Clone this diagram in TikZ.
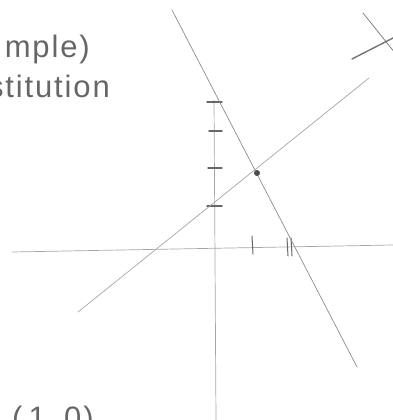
\documentclass[tikz,border=0pt]{standalone}
\usepackage{fontspec}
\newfontfamily\handfont[LetterSpace=6]{Liberation Sans}
\usetikzlibrary{positioning, calc}
\tikzset{
  pencil/.style={draw=black!45, line width=0.7pt, line cap=round},
  tickmark/.style={draw=black!60, line width=1.4pt, line cap=round},
  scrawl/.style={font=\handfont\fontsize{31}{31}\selectfont, text=black!60, inner sep=0pt},
}
\begin{document}
\begin{tikzpicture}[x=1pt, y=-1pt]
\useasboundingbox (0,0) rectangle (393,420);
\clip (0,0) rectangle (393,420);
% notes cut off at the left and bottom edges of the page
\node[scrawl, anchor=base east] (title) at (90,57) {mple)};
\node[scrawl, anchor=base east] (method) at (110,97) {stitution};
\node[scrawl, anchor=base west] (point) at (12,428) {(\hspace{6pt}1,\hspace{8pt}0\hspace{2pt})};
% axes, drawn freehand so a little off level
\coordinate (xl) at (12,252);
\coordinate (xr) at (393,245);
\coordinate (yt) at (214,100);
\coordinate (yb) at (216,420);
\draw[pencil, black!35] (xl) -- (xr);
\draw[pencil, black!35] (yt) -- (yb);
% unit marks on the y axis
\foreach \yy/\w in {102/8, 131/6, 168/7, 206/8}
  \draw[tickmark] (215-\w,\yy) -- (222,\yy);
% unit marks on the x axis: one stroke at 1, two at 2
\draw[tickmark, line width=1pt] (252,236) -- (253,254);
\draw[tickmark, line width=1pt] (287,238) -- (288,256);
\draw[tickmark, line width=1pt] (291,238) -- (292,256);
% the two lines and where they meet
\coordinate (a1) at (172,10);
\coordinate (a2) at (357,367);
\coordinate (b1) at (78,312);
\coordinate (b2) at (369,78);
\draw[pencil] (a1) -- (a2);
\draw[pencil, black!35] (b1) -- (b2);
\node[circle, fill=black!70, inner sep=0pt, minimum size=6pt] (meet) at (257,173) {};
% crossed-out stroke in the corner
\coordinate (c1) at (363,13);
\coordinate (c2) at (395,53);
\coordinate (d1) at (352,59);
\coordinate (d2) at (395,37);
\draw[pencil, black!55] (c1) -- (c2);
\draw[pencil, black!55, line width=1.4pt] (d1) -- (d2);
\end{tikzpicture}
\end{document}
